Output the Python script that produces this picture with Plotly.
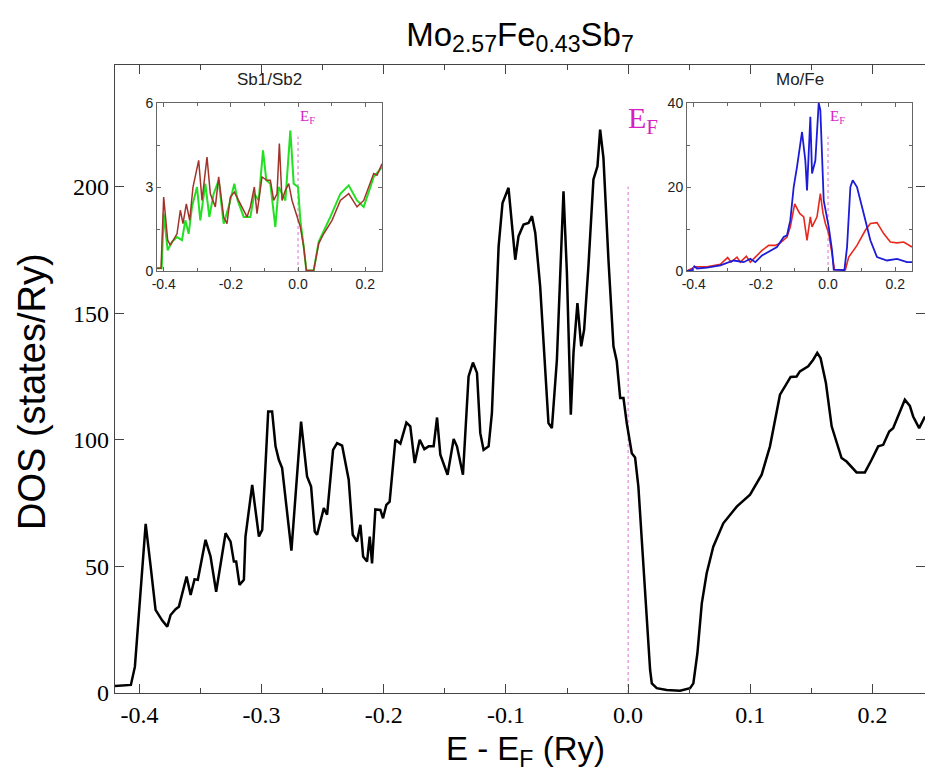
import plotly.graph_objects as go

# ---------------- data ----------------
main_e = [-0.420, -0.407, -0.4037, -0.4004, -0.3949, -0.3908, -0.3868, -0.3813, -0.3772, -0.3745,
          -0.3704, -0.3677, -0.3614, -0.3581, -0.3549, -0.3522, -0.3459, -0.3418, -0.3372, -0.3295,
          -0.3254, -0.3227, -0.3208, -0.3181, -0.3145, -0.3132, -0.3077, -0.3022, -0.2995, -0.2946,
          -0.2914, -0.2886, -0.2859, -0.2832, -0.2756, -0.2677, -0.2628, -0.2595, -0.2565, -0.2546,
          -0.2491, -0.2464, -0.2415, -0.2382, -0.2341, -0.2287, -0.2254, -0.2219, -0.2191, -0.2169,
          -0.2137, -0.2115, -0.2096, -0.2069, -0.2028, -0.2006, -0.1979, -0.1952, -0.1905, -0.1864,
          -0.1815, -0.1783, -0.1747, -0.1706, -0.1668, -0.1633, -0.1592, -0.1564, -0.1537, -0.1478,
          -0.1428, -0.1401, -0.1352, -0.1306, -0.1270, -0.1237, -0.1210, -0.1183, -0.1142, -0.1115,
          -0.1060, -0.1028, -0.0979, -0.0924, -0.0897, -0.0856, -0.0815, -0.0787, -0.0760, -0.0720,
          -0.0679, -0.0652, -0.0624, -0.0583, -0.0529, -0.0501, -0.0469, -0.0447, -0.0415, -0.0384,
          -0.0360, -0.0325, -0.0284, -0.0251, -0.0229, -0.0202, -0.0161, -0.0120, -0.0093, -0.0065,
          -0.0038, -0.0011, 0.0030, 0.0057, 0.0084, 0.0125, 0.0153, 0.0180, 0.0194, 0.0234,
          0.0316, 0.0425, 0.0507, 0.0534, 0.0567, 0.0603, 0.0643, 0.0697, 0.0779, 0.0889,
          0.0998, 0.1093, 0.1161, 0.1243, 0.1284, 0.1330, 0.1379, 0.1406, 0.1474, 0.1515,
          0.1548, 0.1575, 0.1619, 0.1666, 0.1747, 0.1788, 0.1870, 0.1938, 0.1993, 0.2047,
          0.2088, 0.2137, 0.2169, 0.2218, 0.2265, 0.2306, 0.2333, 0.2382, 0.2430]
main_dos = [2.8, 3.2, 10.4, 31.6, 66.8, 49.9, 32.8, 28.6, 26.2, 30.8,
            33.1, 34.1, 46.0, 38.7, 44.9, 44.7, 60.5, 53.9, 40.0, 63.1,
            59.8, 51.9, 51.9, 42.7, 44.7, 61.8, 82.2, 61.8, 64.4, 111.2,
            111.2, 97.4, 92.1, 88.8, 56.2, 107.2, 85.5, 81.5, 63.8, 62.5,
            73.0, 70.4, 96.0, 98.7, 97.7, 84.2, 62.5, 59.8, 66.4, 53.9,
            51.9, 61.8, 51.2, 72.5, 72.3, 69.0, 74.3, 75.6, 100.0, 98.5,
            106.8, 105.3, 90.8, 100.0, 96.3, 97.4, 97.4, 108.8, 94.1, 86.2,
            100.3, 97.4, 86.2, 125.0, 130.5, 126.4, 102.6, 96.0, 97.4, 110.5,
            176.4, 193.5, 199.5, 171.1, 180.4, 185.0, 185.6, 188.3, 181.7, 160.6,
            129.0, 106.6, 104.6, 131.6, 198.1, 165.9, 109.9, 134.3, 154.0, 136.9,
            143.5, 168.5, 202.8, 208.0, 222.5, 211.3, 171.1, 136.9, 131.0, 116.5,
            116.5, 106.5, 94.7, 93.0, 81.5, 51.3, 31.5, 9.1, 3.8, 1.9,
            1.2, 0.9, 1.9, 3.8, 15.7, 35.4, 47.3, 57.8, 67.0, 73.6,
            78.3, 86.2, 97.4, 117.8, 121.1, 124.8, 125.0, 127.0, 129.0, 131.6,
            134.3, 132.3, 122.4, 105.3, 92.8, 91.4, 87.1, 87.1, 92.1, 97.4,
            98.0, 103.3, 104.6, 110.5, 115.8, 113.4, 109.2, 104.6, 109.2]

# Sb1/Sb2 inset
sb_red_e = [-0.420, -0.408, -0.4001, -0.3882, -0.3803, -0.3604, -0.3505, -0.3426, -0.3327, -0.3227,
            -0.3128, -0.2959, -0.2860, -0.2711, -0.2612, -0.2463, -0.2364, -0.2215, -0.2116, -0.2016,
            -0.1897, -0.1768, -0.1669, -0.1520, -0.1420, -0.1301, -0.1222, -0.1073, -0.0924, -0.0825,
            -0.0725, -0.0626, -0.0556, -0.0477, -0.0378, -0.0278, -0.0179, -0.0030, 0.0069, 0.0169,
            0.0247, 0.0466, 0.0615, 0.0763, 0.1012, 0.1260, 0.1508, 0.1756, 0.1955, 0.2253,
            0.2352, 0.2500]
sb_red_dos = [0.1, 0.1, 2.64, 1.10, 0.92, 1.33, 2.17, 1.69, 2.40, 1.81,
              3.00, 3.95, 2.52, 4.07, 2.76, 2.29, 3.36, 1.93, 1.69, 2.64,
              2.82, 2.52, 2.29, 1.93, 2.29, 3.00, 2.05, 3.36, 3.24, 3.24,
              2.52, 2.76, 4.55, 2.52, 2.88, 3.12, 2.52, 1.93, 1.57, 0.86,
              0.02, 0.02, 0.98, 1.33, 1.81, 2.52, 2.76, 2.29, 2.52, 3.48,
              3.42, 3.83]
sb_green_e = [-0.420, -0.406, -0.4001, -0.3882, -0.3753, -0.3604, -0.3455, -0.3356, -0.3257, -0.3158,
              -0.3009, -0.2910, -0.2761, -0.2642, -0.2513, -0.2364, -0.2215, -0.2066, -0.1897, -0.1798,
              -0.1619, -0.1420, -0.1301, -0.1172, -0.1043, -0.0944, -0.0825, -0.0676, -0.0576, -0.0477,
              -0.0378, -0.0229, -0.0129, 0.0000, 0.0069, 0.0169, 0.0247, 0.0466, 0.0615, 0.0962,
              0.1260, 0.1508, 0.1756, 0.1955, 0.2253, 0.2500]
sb_green_dos = [0.1, 0.1, 2.05, 0.74, 1.04, 1.21, 1.10, 1.81, 1.33, 2.29,
                3.00, 1.81, 3.12, 1.93, 2.76, 3.24, 1.69, 2.29, 3.12, 2.52,
                1.93, 1.93, 2.76, 2.52, 4.31, 3.24, 3.12, 1.57, 3.00, 2.76,
                2.52, 5.02, 3.12, 3.00, 1.81, 0.86, 0.02, 0.02, 1.04, 1.93,
                2.76, 3.06, 2.52, 2.29, 3.36, 3.71]

# Mo/Fe inset
mo_blue_e = [-0.420, -0.405, -0.3982, -0.3900, -0.3604, -0.3207, -0.2810, -0.2512, -0.2314, -0.2165,
             -0.1966, -0.1718, -0.1520, -0.1321, -0.1222, -0.1123, -0.1023, -0.0924, -0.0775, -0.0676,
             -0.0626, -0.0527, -0.0477, -0.0378, -0.0278, -0.0229, -0.0129, 0.0020, 0.0119, 0.0169,
             0.0487, 0.0566, 0.0665, 0.0735, 0.0862, 0.1061, 0.1260, 0.1458, 0.1756, 0.2054,
             0.2352, 0.2500]
mo_blue_dos = [0.0, 0.2, 1.1, 0.6, 0.8, 1.35, 2.5, 2.1, 2.9, 2.1,
               3.7, 4.9, 5.7, 8.1, 8.5, 12.1, 20.0, 24.8, 33.1, 26.3,
               19.2, 36.7, 23.2, 26.3, 40.0, 38.3, 16.8, 10.5, 4.9, 0.3,
               0.2, 5.7, 20.0, 21.6, 20.0, 13.7, 7.3, 3.3, 2.5, 2.9,
               2.1, 2.1]
mo_red_e = [-0.420, -0.3952, -0.3604, -0.3207, -0.2989, -0.2890, -0.2711, -0.2612, -0.2433, -0.2314,
            -0.2165, -0.1966, -0.1768, -0.1569, -0.1420, -0.1222, -0.1123, -0.0993, -0.0845, -0.0725,
            -0.0626, -0.0527, -0.0477, -0.0428, -0.0328, -0.0229, -0.0149, -0.0080, 0.0020, 0.0119,
            0.0189, 0.0517, 0.0615, 0.0862, 0.1111, 0.1260, 0.1458, 0.1657, 0.1856, 0.2054,
            0.2253, 0.2500]
mo_red_dos = [0.0, 1.0, 1.0, 1.6, 3.2, 2.1, 3.3, 2.1, 3.5, 2.1,
              3.3, 4.9, 6.1, 6.1, 6.7, 8.1, 10.5, 16.0, 13.7, 12.9,
              7.3, 12.9, 10.5, 11.3, 12.9, 18.4, 13.7, 11.3, 8.9, 4.1,
              0.3, 0.3, 3.3, 6.1, 9.7, 11.3, 11.5, 8.9, 6.9, 6.7,
              6.9, 5.7]

# Fermi-level marker extents
ef_main_top = 200
ef_sb_top = 4.8
ef_mo_top = 32

main_xticks = [-0.4, -0.3, -0.2, -0.1, 0.0, 0.1, 0.2]
main_xticklabels = ["-0.4", "-0.3", "-0.2", "-0.1", "0.0", "0.1", "0.2"]
main_yticks = [0, 50, 100, 150, 200]
inset_xticks = [-0.4, -0.2, 0.0, 0.2]
inset_xticklabels = ["-0.4", "-0.2", "0.0", "0.2"]
sb_yticks = [0, 3, 6]
mo_yticks = [0, 20, 40]

# ---------------- figure ----------------
SANS = "Liberation Sans, Arial, sans-serif"
SERIF = "Liberation Serif, Times New Roman, serif"
MAGENTA = "#d61fc4"

fig = go.Figure()

fig.add_trace(go.Scatter(x=[0, 0], y=[0, ef_main_top], mode="lines",
                         line=dict(color="#e070d0", width=1, dash="dot"), xaxis="x", yaxis="y"))
fig.add_trace(go.Scatter(x=main_e, y=main_dos, mode="lines",
                         line=dict(color="black", width=2.5), xaxis="x", yaxis="y"))

fig.add_trace(go.Scatter(x=[0, 0], y=[0, ef_sb_top], mode="lines",
                         line=dict(color="#e070d0", width=1, dash="dot"), xaxis="x2", yaxis="y2"))
fig.add_trace(go.Scatter(x=sb_green_e, y=sb_green_dos, mode="lines",
                         line=dict(color="#22e022", width=2), xaxis="x2", yaxis="y2"))
fig.add_trace(go.Scatter(x=sb_red_e, y=sb_red_dos, mode="lines",
                         line=dict(color="#a0342a", width=1.5), xaxis="x2", yaxis="y2"))

fig.add_trace(go.Scatter(x=[0, 0], y=[0, ef_mo_top], mode="lines",
                         line=dict(color="#e070d0", width=1, dash="dot"), xaxis="x3", yaxis="y3"))
fig.add_trace(go.Scatter(x=mo_red_e, y=mo_red_dos, mode="lines",
                         line=dict(color="#e8281e", width=1.6), xaxis="x3", yaxis="y3"))
fig.add_trace(go.Scatter(x=mo_blue_e, y=mo_blue_dos, mode="lines",
                         line=dict(color="#1c1cd8", width=1.8), xaxis="x3", yaxis="y3"))

W, H = 925, 776
L, R, T, B = 115, 0, 65, 83
pw, ph = W - L - R, H - T - B


def dx(px):
    return (px - L) / pw


def dy(py):
    return (H - B - py) / ph


main_axis_common = dict(showline=True, linecolor="#444", linewidth=1.3, mirror="ticks",
                        ticks="inside", tickcolor="#444", showgrid=False, zeroline=False,
                        automargin=False,
                        tickfont=dict(family=SERIF, size=24, color="black"))

inset_axis_common = dict(showline=True, linecolor="#666", linewidth=1, mirror="ticks",
                         ticks="inside", ticklen=4, tickcolor="#666", showgrid=False, zeroline=False,
                         automargin=False,
                         tickfont=dict(family=SANS, size=14, color="#222"))

fig.update_layout(
    width=W, height=H,
    margin=dict(l=L, r=R, t=T, b=B, autoexpand=False),
    paper_bgcolor="white", plot_bgcolor="white",
    showlegend=False,
    title=dict(text="Mo<sub>2.57</sub>Fe<sub>0.43</sub>Sb<sub>7</sub>",
               font=dict(family=SANS, size=33, color="black"),
               x=0.5, xref="paper", xanchor="center",
               y=1 - 34 / H, yref="container", yanchor="middle"),
    xaxis=dict(main_axis_common, range=[-0.42, 0.243], domain=[0, 1], anchor="y",
               tickmode="array", tickvals=main_xticks, ticktext=main_xticklabels, ticklen=9,
               minor=dict(ticks="inside", ticklen=5, dtick=0.05, tick0=0, tickcolor="#444")),
    yaxis=dict(main_axis_common, range=[0, 248], domain=[0, 1], anchor="x",
               tickmode="array", tickvals=main_yticks, ticklen=9),
    xaxis2=dict(inset_axis_common, range=[-0.42, 0.25], domain=[dx(157), dx(382)], anchor="y2",
                tickmode="array", tickvals=inset_xticks, ticktext=inset_xticklabels,
                minor=dict(ticks="inside", ticklen=3, dtick=0.1, tick0=0, tickcolor="#666")),
    yaxis2=dict(inset_axis_common, range=[0, 6], domain=[dy(271), dy(103)], anchor="x2",
                tickmode="array", tickvals=sb_yticks,
                minor=dict(ticks="inside", ticklen=3, dtick=1.5, tick0=0, tickcolor="#666")),
    xaxis3=dict(inset_axis_common, range=[-0.42, 0.25], domain=[dx(687), dx(912)], anchor="y3",
                tickmode="array", tickvals=inset_xticks, ticktext=inset_xticklabels,
                minor=dict(ticks="inside", ticklen=3, dtick=0.1, tick0=0, tickcolor="#666")),
    yaxis3=dict(inset_axis_common, range=[0, 40], domain=[dy(271), dy(103)], anchor="x3",
                tickmode="array", tickvals=mo_yticks,
                minor=dict(ticks="inside", ticklen=3, dtick=10, tick0=0, tickcolor="#666")),
    annotations=[
        dict(text="E - E<sub>F</sub> (Ry)", x=dx(525), y=dy(751), xref="paper", yref="paper",
             xanchor="center", yanchor="middle", showarrow=False,
             font=dict(family=SANS, size=33, color="black")),
        dict(text="DOS (states/Ry)", x=dx(32), y=dy(392), xref="paper", yref="paper",
             xanchor="center", yanchor="middle", showarrow=False, textangle=-90,
             font=dict(family=SANS, size=38, color="black")),
        dict(text="E<sub>F</sub>", x=0, y=(H - B - 120) / ph * 248, xref="x", yref="y",
             xanchor="left", yanchor="middle", showarrow=False, xshift=-2,
             font=dict(family=SERIF, size=30, color=MAGENTA)),
        dict(text="E<sub>F</sub>", x=0, y=5.5, xref="x2", yref="y2",
             xanchor="left", yanchor="middle", showarrow=False,
             font=dict(family=SERIF, size=15, color=MAGENTA)),
        dict(text="E<sub>F</sub>", x=0, y=36.7, xref="x3", yref="y3",
             xanchor="left", yanchor="middle", showarrow=False,
             font=dict(family=SERIF, size=15, color=MAGENTA)),
        dict(text="Sb1/Sb2", x=dx(269), y=dy(79), xref="paper", yref="paper",
             xanchor="center", yanchor="middle", showarrow=False,
             font=dict(family=SANS, size=17, color="#222")),
        dict(text="Mo/Fe", x=dx(800), y=dy(79), xref="paper", yref="paper",
             xanchor="center", yanchor="middle", showarrow=False,
             font=dict(family=SANS, size=17, color="#222")),
    ],
)

fig.write_html("out.html", config={"displayModeBar": False},
               post_script="document.body.style.margin='0px';"
                           "document.body.style.overflow='hidden';")
